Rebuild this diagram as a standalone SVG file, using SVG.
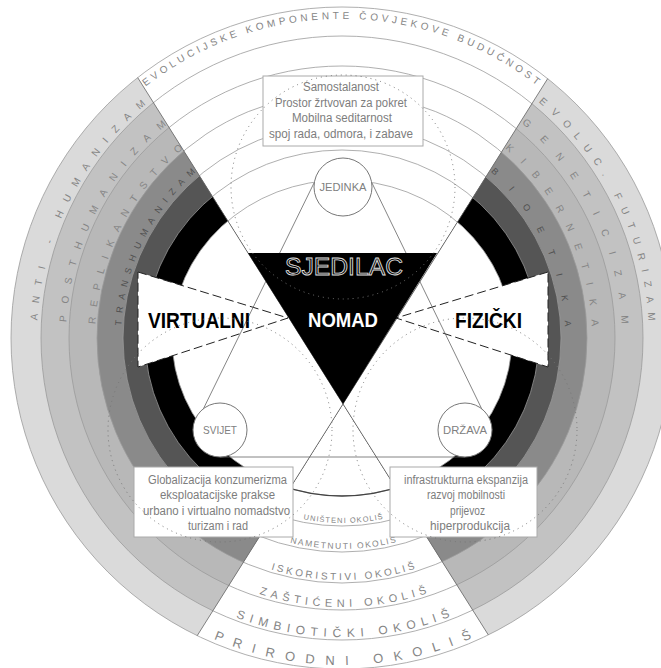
<svg xmlns="http://www.w3.org/2000/svg" width="661" height="668" viewBox="0 0 661 668">
<defs>
<clipPath id="sides"><polygon points="343,404 23.5,-104 -60,-104 -60,912 23.5,912"/><polygon points="343,404 662.5,-104 740,-104 740,912 662.5,912"/></clipPath>
<clipPath id="bottom"><polygon points="343,404 662.5,912 23.5,912"/></clipPath>
<path id="pTop" d="M145.6,86.6 A319,319 0 0 1 555.5,100.9"/>
<path id="pAnti" d="M37.5,320.4 A305,305 0 0 1 167.1,88.2"/>
<path id="pPost" d="M66.5,322.1 A276,276 0 0 1 183.7,111.9"/>
<path id="pRep" d="M95.4,324.2 A247,247 0 0 1 200.3,135.7"/>
<path id="pTrans" d="M121.3,325.7 A221,221 0 0 1 209,161.5"/>
<path id="pEvo" d="M538.5,102.1 A307,307 0 0 1 648.8,348.7"/>
<path id="pGen" d="M521.6,123.2 A280,280 0 0 1 621.8,347.8"/>
<path id="pKib" d="M505,148.5 A250,250 0 0 1 591.8,346.7"/>
<path id="pBio" d="M490.6,171.8 A223,223 0 0 1 564.9,345.8"/>
<path id="b1" d="M174,430.5 A194,185 0 0 0 510,430.5"/>
<path id="b2" d="M154.1,443.5 A217,211 0 0 0 529.9,443.5"/>
<path id="b3" d="M132.4,459 A242,242 0 0 0 551.6,459"/>
<path id="b4" d="M108.2,472.5 A270,269 0 0 0 575.8,472.5"/>
<path id="b5" d="M83.9,487.5 A298,299 0 0 0 600.1,487.5"/>
<path id="b6" d="M58.8,501.5 A327,327 0 0 0 625.2,501.5"/>
</defs>
<style>
.ring{fill:none;stroke:#9a9a9a;stroke-width:0.8}
.lbl{font-family:"Liberation Sans",Arial,sans-serif;fill:#858585}
.lbl .dk{fill:#505050}
.dot{fill:none;stroke:#777;stroke-width:1;stroke-dasharray:1 4}
.node circle{fill:#fff;stroke:#777;stroke-width:1}
.node text{font-family:"Liberation Sans",Arial,sans-serif;font-size:11px;fill:#808080;text-anchor:middle}
.box rect{fill:#fff;stroke:#aaa;stroke-width:1}
.box text{font-family:"Liberation Sans",Arial,sans-serif;font-size:12.5px;fill:#7d7d7d;text-anchor:middle}
.bold{font-family:"Liberation Sans",Arial,sans-serif;font-weight:bold;text-anchor:middle}
.beam{fill:#fff;stroke:#222;stroke-width:1;stroke-dasharray:9 4}
.conn{stroke:#666;stroke-width:0.8;fill:none}
.xl{stroke:#666;stroke-width:0.8;fill:none}
</style>
<rect width="661" height="668" fill="#fff"/>
<g id="bands" clip-path="url(#sides)">
<circle cx="342" cy="338" r="331" fill="#dadada"/>
<ellipse cx="342" cy="338" rx="301" ry="302" fill="#c2c2c2"/>
<ellipse cx="342" cy="338" rx="273" ry="272" fill="#b8b8b8"/>
<ellipse cx="342" cy="338" rx="245" ry="245" fill="#8a8a8a"/>
<ellipse cx="342" cy="338" rx="219" ry="214" fill="#555"/>
<ellipse cx="342" cy="338" rx="197" ry="188" fill="#000"/>
<ellipse cx="342" cy="338" rx="170" ry="158" fill="#fff"/>
</g>
<g id="rings">
<circle class="ring" cx="342" cy="338" r="331"/>
<ellipse class="ring" cx="342" cy="338" rx="301" ry="302"/>
<ellipse class="ring" cx="342" cy="338" rx="273" ry="272"/>
<ellipse class="ring" cx="342" cy="338" rx="245" ry="245"/>
<ellipse class="ring" cx="342" cy="338" rx="219" ry="214"/>
<ellipse class="ring" cx="342" cy="338" rx="197" ry="188"/>
<ellipse class="ring" cx="342" cy="338" rx="170" ry="158"/>
<ellipse cx="342" cy="338" rx="170" ry="158" fill="none" stroke="#444" stroke-width="1.3" clip-path="url(#bottom)"/>
</g>
<g id="ring-labels" class="lbl">
<text font-size="10" style="letter-spacing:3.6px"><textPath href="#pTop">EVOLUCIJSKE KOMPONENTE ČOVJEKOVE BUDUĆNOST</textPath></text>
<text font-size="10" style="letter-spacing:10.4px"><textPath href="#pAnti">ANTI - HUMANIZAM</textPath></text>
<text font-size="10" style="letter-spacing:11.6px"><textPath href="#pPost">POSTHUMANIZAM</textPath></text>
<text font-size="10" style="letter-spacing:9.9px"><textPath href="#pRep">REPLIKANTSTVO</textPath></text>
<text class="dk" font-size="9" style="letter-spacing:6.9px"><textPath href="#pTrans">TRANSHUMANIZAM</textPath></text>
<text font-size="10" style="letter-spacing:9.2px"><textPath href="#pEvo">EVOLUC. FUTURIZAM</textPath></text>
<text font-size="10" style="letter-spacing:16.2px"><textPath href="#pGen">GENETICIZAM</textPath></text>
<text font-size="10" style="letter-spacing:13.7px"><textPath href="#pKib">KIBERNETIKA</textPath></text>
<text class="dk" font-size="9" style="letter-spacing:19.2px"><textPath href="#pBio">BIOETIKA</textPath></text>
<text font-size="7.5" text-anchor="middle" style="letter-spacing:1.07px"><textPath href="#b1" startOffset="202">UNIŠTENI OKOLIŠ</textPath></text>
<text font-size="8.5" text-anchor="middle" style="letter-spacing:1.56px"><textPath href="#b2" startOffset="227.2">NAMETNUTI OKOLIŠ</textPath></text>
<text font-size="10" text-anchor="middle" style="letter-spacing:2.77px"><textPath href="#b3" startOffset="255.8">ISKORISTIVI OKOLIŠ</textPath></text>
<text font-size="11" text-anchor="middle" style="letter-spacing:4.6px"><textPath href="#b4" startOffset="285.8">ZAŠTIĆENI OKOLIŠ</textPath></text>
<text font-size="12" text-anchor="middle" style="letter-spacing:5.8px"><textPath href="#b5" startOffset="316.3">SIMBIOTIČKI OKOLIŠ</textPath></text>
<text font-size="13" text-anchor="middle" style="letter-spacing:10.7px"><textPath href="#b6" startOffset="348.8">PRIRODNI OKOLIŠ</textPath></text>
</g>
<g id="sector-lines">
<line class="xl" x1="137.7" y1="77.6" x2="488.3" y2="634.9"/>
<line class="xl" x1="547.7" y1="78.6" x2="197.2" y2="635.7"/>
</g>
<g id="virtualni">
<polygon class="beam" points="138,272 288,318 138,367"/>
</g>
<g id="fizicki">
<polygon class="beam" points="548,272 396,318 548,367"/>
</g>
<g id="connectors">
<line class="conn" x1="314" y1="183" x2="193" y2="430"/>
<line class="conn" x1="372" y1="183" x2="492" y2="430"/>
<line class="conn" x1="220" y1="457" x2="465" y2="457"/>
</g>
<g id="nomad">
<polygon points="248,253 437,253 343,404" fill="#000"/>
<text x="344" y="275" font-family="Liberation Sans, Arial, sans-serif" font-size="23" text-anchor="middle" fill="#000" stroke="#e0e0e0" stroke-width="0.8" textLength="118" lengthAdjust="spacingAndGlyphs">SJEDILAC</text>
<text class="bold" x="343" y="327" font-size="21" fill="#fff" textLength="70" lengthAdjust="spacingAndGlyphs">NOMAD</text>
</g>
<g id="beam-labels">
<text class="bold" x="199" y="328" font-size="22" fill="#000" textLength="102" lengthAdjust="spacingAndGlyphs">VIRTUALNI</text>
<text class="bold" x="488.5" y="328" font-size="22" fill="#000" textLength="67" lengthAdjust="spacingAndGlyphs">FIZIČKI</text>
</g>
<g id="box-top" class="box">
<rect x="263" y="76" width="160" height="70"/>
<text x="341" y="91" textLength="76" lengthAdjust="spacingAndGlyphs">Samostalanost</text>
<text x="341" y="106.5" textLength="132" lengthAdjust="spacingAndGlyphs">Prostor žrtvovan za pokret</text>
<text x="342" y="122" textLength="100" lengthAdjust="spacingAndGlyphs">Mobilna seditarnost</text>
<text x="341" y="137.5" textLength="144" lengthAdjust="spacingAndGlyphs">spoj rada, odmora, i zabave</text>
</g>
<g id="box-left" class="box">
<rect x="134" y="467" width="159" height="70"/>
<text x="217.5" y="483.5" textLength="139" lengthAdjust="spacingAndGlyphs">Globalizacija konzumerizma</text>
<text x="217.5" y="499" textLength="115" lengthAdjust="spacingAndGlyphs">eksploatacijske prakse</text>
<text x="216.5" y="514.5" textLength="147" lengthAdjust="spacingAndGlyphs">urbano i virtualno nomadstvo</text>
<text x="218" y="530" textLength="60" lengthAdjust="spacingAndGlyphs">turizam i rad</text>
</g>
<g id="box-right" class="box">
<rect x="390" y="467" width="147" height="70"/>
<text x="466" y="483.5" textLength="124" lengthAdjust="spacingAndGlyphs">infrastrukturna ekspanzija</text>
<text x="466" y="499" textLength="78" lengthAdjust="spacingAndGlyphs">razvoj mobilnosti</text>
<text x="467.5" y="514.5" textLength="35" lengthAdjust="spacingAndGlyphs">prijevoz</text>
<text x="470" y="530" textLength="80" lengthAdjust="spacingAndGlyphs">hiperprodukcija</text>
</g>
<g id="dotted">
<circle class="dot" cx="343" cy="187" r="112"/>
<circle class="dot" cx="220" cy="430" r="112"/>
<circle class="dot" cx="465" cy="430" r="112"/>
</g>
<g id="jedinka" class="node">
<circle cx="343" cy="187" r="29"/>
<text x="343" y="191" textLength="47" lengthAdjust="spacingAndGlyphs">JEDINKA</text>
</g>
<g id="svijet" class="node">
<circle cx="220" cy="430" r="27"/>
<text x="220" y="434" textLength="34" lengthAdjust="spacingAndGlyphs">SVIJET</text>
</g>
<g id="drzava" class="node">
<circle cx="465" cy="430" r="27"/>
<text x="465" y="434" textLength="44" lengthAdjust="spacingAndGlyphs">DRŽAVA</text>
</g>
</svg>
